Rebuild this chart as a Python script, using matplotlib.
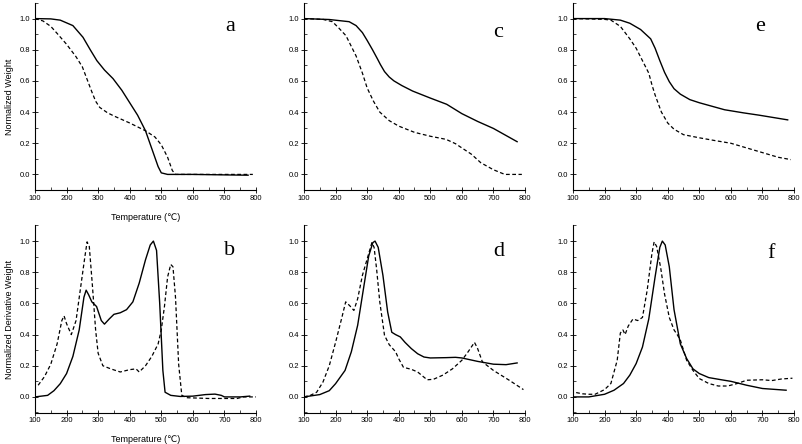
import matplotlib
matplotlib.use('Agg')
import matplotlib.pyplot as plt
from matplotlib.ticker import MultipleLocator, FormatStrFormatter

plt.rcParams['font.family'] = ['Liberation Sans Narrow', 'Liberation Sans', 'DejaVu Sans']

# panel a: normalized weight
a_solid_x = [100, 150, 180, 220, 252, 275, 296, 320, 347, 375, 400, 425, 450, 470, 490, 500, 520, 600, 700, 775]
a_solid_y = [1.0, 0.998, 0.99, 0.955, 0.88, 0.80, 0.73, 0.67, 0.615, 0.54, 0.46, 0.38, 0.28, 0.165, 0.05, 0.01, 0.0, 0.0, -0.003, -0.005]
a_dash_x = [100, 125, 150, 170, 200, 230, 250, 265, 280, 292, 305, 330, 350, 400, 450, 480, 500, 520, 535, 545, 650, 790]
a_dash_y = [1.0, 0.985, 0.95, 0.905, 0.835, 0.755, 0.69, 0.61, 0.53, 0.47, 0.43, 0.395, 0.375, 0.33, 0.28, 0.24, 0.19, 0.11, 0.025, 0.0, 0.0, 0.0]

# panel b: derivative weight
b_solid_x = [100, 140, 160, 180, 200, 220, 240, 255, 262, 270, 280, 295, 310, 320, 335, 350, 370, 390, 410, 430, 450, 465, 475,
             485, 495, 505, 512, 530, 560, 600, 640, 670, 690, 700, 750, 780]
b_solid_y = [0.0, 0.01, 0.04, 0.085, 0.15, 0.26, 0.43, 0.64, 0.685, 0.655, 0.61, 0.58, 0.49, 0.467, 0.50, 0.53, 0.54, 0.56, 0.61, 0.73, 0.88, 0.975, 1.0,
             0.94, 0.60, 0.17, 0.03, 0.01, 0.003, 0.005, 0.015, 0.018, 0.01, 0.0, 0.0, 0.005]
b_dash_x = [110, 130, 150, 170, 185, 192, 200, 215, 230, 245, 258, 265, 272, 282, 292, 300, 315, 340, 370, 400, 420, 430, 450,
            470, 490, 500, 510, 520, 530, 537, 545, 555, 565, 580, 650, 700, 740, 760, 800]
b_dash_y = [0.075, 0.13, 0.21, 0.34, 0.49, 0.52, 0.47, 0.40, 0.49, 0.71, 0.90, 0.995, 0.965, 0.71, 0.43, 0.28, 0.20, 0.18, 0.16, 0.175, 0.18, 0.16, 0.20,
            0.26, 0.34, 0.43, 0.58, 0.77, 0.85, 0.835, 0.64, 0.21, 0.01, -0.005, -0.01, -0.01, -0.01, 0.0, 0.0]

# panel c
c_solid_x = [100, 180, 243, 265, 285, 300, 317, 333, 342, 355, 370, 385, 410, 444, 500, 552, 600, 650, 700, 775]
c_solid_y = [1.0, 0.994, 0.98, 0.955, 0.91, 0.86, 0.80, 0.74, 0.705, 0.66, 0.625, 0.60, 0.57, 0.535, 0.49, 0.45, 0.39, 0.34, 0.295, 0.21]
c_dash_x = [100, 160, 190, 210, 233, 265, 285, 300, 320, 340, 370, 400, 450, 500, 550, 580, 600, 630, 660, 700, 730, 740, 790]
c_dash_y = [1.0, 0.995, 0.98, 0.94, 0.89, 0.76, 0.65, 0.555, 0.47, 0.40, 0.345, 0.31, 0.27, 0.245, 0.225, 0.197, 0.17, 0.13, 0.075, 0.03, 0.005, 0.0, 0.0]

# panel d
d_solid_x = [100, 150, 180, 200, 230, 250, 270, 290, 305, 318, 325, 335, 350, 365, 378, 390, 405, 420, 440, 460, 480, 500,
             550, 580, 600, 650, 700, 740, 775]
d_solid_y = [0.0, 0.015, 0.04, 0.085, 0.17, 0.29, 0.46, 0.715, 0.905, 0.99, 1.0, 0.96, 0.78, 0.545, 0.415, 0.40, 0.385, 0.35, 0.31, 0.277, 0.256, 0.25,
             0.252, 0.254, 0.25, 0.228, 0.21, 0.207, 0.218]
d_dash_x = [100, 120, 140, 160, 180, 200, 220, 232, 245, 258, 270, 285, 300, 315, 322, 330, 340, 355, 370, 390, 400, 415, 440,
            460, 490, 510, 540, 570, 600, 620, 640, 650, 665, 700, 750, 795]
d_dash_y = [0.0, 0.01, 0.03, 0.095, 0.2, 0.35, 0.51, 0.61, 0.585, 0.555, 0.63, 0.78, 0.885, 0.99, 0.96, 0.82, 0.61, 0.395, 0.335, 0.29, 0.245, 0.19, 0.177,
            0.16, 0.11, 0.113, 0.14, 0.18, 0.235, 0.29, 0.35, 0.31, 0.225, 0.17, 0.107, 0.047]

# panel e
e_solid_x = [100, 200, 250, 280, 314, 346, 360, 375, 390, 405, 420, 440, 470, 500, 580, 640, 690, 780]
e_solid_y = [1.0, 1.0, 0.99, 0.97, 0.93, 0.87, 0.81, 0.73, 0.655, 0.595, 0.55, 0.515, 0.48, 0.46, 0.415, 0.395, 0.38, 0.35]
e_dash_x = [100, 200, 220, 250, 280, 300, 320, 340, 350, 360, 380, 400, 420, 450, 500, 550, 600, 650, 700, 750, 790]
e_dash_y = [1.0, 0.995, 0.99, 0.95, 0.87, 0.81, 0.73, 0.65, 0.575, 0.51, 0.40, 0.33, 0.29, 0.255, 0.235, 0.217, 0.20, 0.17, 0.14, 0.11, 0.095]

# panel f
f_solid_x = [100, 150, 200, 230, 260, 280, 300, 320, 340, 360, 375, 383, 392, 405, 420, 440, 460, 480, 500, 530, 570, 600,
             650, 700, 775]
f_solid_y = [0.0, 0.0, 0.017, 0.043, 0.086, 0.14, 0.214, 0.32, 0.50, 0.77, 0.96, 1.0, 0.975, 0.835, 0.56, 0.34, 0.246, 0.18, 0.15, 0.124, 0.11, 0.10,
             0.075, 0.054, 0.043]
f_dash_x = [110, 130, 150, 170, 200, 220, 240, 250, 258, 265, 275, 290, 305, 320, 335, 350, 357, 365, 378, 390, 405, 420, 430,
            440, 460, 480, 500, 530, 560, 590, 620, 650, 700, 730, 760, 795]
f_dash_y = [0.028, 0.02, 0.017, 0.017, 0.047, 0.086, 0.235, 0.41, 0.43, 0.40, 0.455, 0.50, 0.49, 0.51, 0.685, 0.92, 0.995, 0.965, 0.825, 0.66, 0.51, 0.43, 0.40,
            0.365, 0.235, 0.17, 0.118, 0.086, 0.07, 0.07, 0.086, 0.107, 0.11, 0.105, 0.115, 0.12]

panels = [
    ('a', a_solid_x, a_solid_y, a_dash_x, a_dash_y, (717, 0.95)),
    ('c', c_solid_x, c_solid_y, c_dash_x, c_dash_y, (714, 0.91)),
    ('e', e_solid_x, e_solid_y, e_dash_x, e_dash_y, (691, 0.95)),
    ('b', b_solid_x, b_solid_y, b_dash_x, b_dash_y, (717, 0.94)),
    ('d', d_solid_x, d_solid_y, d_dash_x, d_dash_y, (716, 0.935)),
    ('f', f_solid_x, f_solid_y, f_dash_x, f_dash_y, (726, 0.92)),
]

W, H = 803, 444
fig = plt.figure(figsize=(W / 100, H / 100), dpi=100)

lefts = [35, 304, 573]
bottoms = [1 - 190 / H, 1 - 412.5 / H]
aw, ah = 221 / W, 187 / H

for i, (name, sx, sy, dx, dy, lab) in enumerate(panels):
    row, col = divmod(i, 3)
    ax = fig.add_axes([lefts[col] / W, bottoms[row], aw, ah])
    ax.plot(sx, sy, color='black', lw=1.0)
    ax.plot(dx, dy, color='black', lw=0.9, linestyle=(0, (3, 2)))
    ax.set_xlim(100, 800)
    ax.set_ylim(-0.1, 1.1)
    ax.spines['top'].set_visible(False)
    ax.spines['right'].set_visible(False)
    ax.spines['left'].set_linewidth(0.8)
    ax.spines['bottom'].set_linewidth(0.8)
    ax.xaxis.set_major_locator(MultipleLocator(100))
    ax.xaxis.set_minor_locator(MultipleLocator(50))
    ax.yaxis.set_major_locator(MultipleLocator(0.2))
    ax.yaxis.set_minor_locator(MultipleLocator(0.1))
    ax.yaxis.set_major_formatter(FormatStrFormatter('%.1f'))
    ax.tick_params(which='major', direction='inout', length=4, width=0.6, labelsize=5.5, pad=1.5)
    ax.tick_params(which='minor', direction='in', length=2, width=0.5)
    ax.text(lab[0], lab[1], name, fontsize=16, family='Liberation Serif', ha='center', va='center')
    if col == 0:
        ax.set_ylabel('Normalized Weight' if row == 0 else 'Normalized Derivative Weight', fontsize=6.5, labelpad=4)
        ax.set_xlabel('Temperature (\u2103)', fontsize=6.5, labelpad=8,
                      family=['Liberation Sans Narrow', 'Liberation Sans', 'DejaVu Sans'])

fig.savefig('out.png', dpi=100)
